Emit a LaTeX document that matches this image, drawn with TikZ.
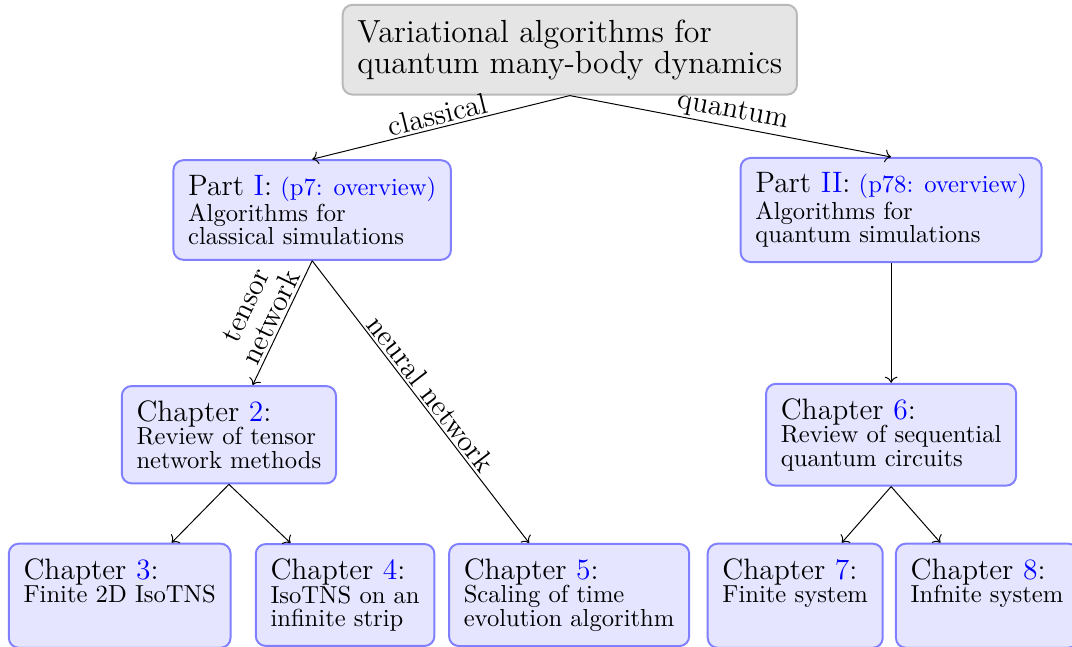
\documentclass[tikz,border=0pt]{standalone}
\usepackage{tikz}
\usetikzlibrary{positioning,arrows.meta}
\usepackage{xcolor}
\begin{document}
\begin{tikzpicture}[
  topbox/.style={rectangle, draw=gray!55, fill=gray!20, rounded corners=4pt, line width=0.8pt, align=left, font=\fontsize{13}{12.7}\selectfont, inner xsep=6pt, inner ysep=6pt},
  partbox/.style={rectangle, draw=blue!50, fill=blue!10, rounded corners=4pt, line width=0.8pt, align=left, font=\fontsize{10}{9.5}\selectfont, inner xsep=6pt, inner ysep=6pt},
  link/.style={->, thin, black},
  tag/.style={font=\fontsize{12}{11.5}\selectfont, sloped, above, inner sep=1pt},
]
  \useasboundingbox (0,0) rectangle (15.314,-9.229);

  \node[topbox] (top) at (8.14,-0.71) {Variational algorithms for\\ quantum many-body dynamics};

  \node[partbox] (P1) at (4.46,-3.0) {{\large Part \textcolor{blue}{I}:} \textcolor{blue}{(p7: overview)}\\ Algorithms for\\ classical simulations};
  \node[partbox] (P2) at (12.73,-3.0) {{\large Part \textcolor{blue}{II}:} \textcolor{blue}{(p78: overview)}\\ Algorithms for\\ quantum simulations};

  \node[partbox] (C2) at (3.27,-6.21) {{\large Chapter \textcolor{blue}{2}:}\\ Review of tensor\\ network methods};
  \node[partbox] (C6) at (12.73,-6.21) {{\large Chapter \textcolor{blue}{6}:}\\ Review of sequential\\ quantum circuits};

  \node[partbox] (C3) at (1.71,-8.51) {{\large Chapter \textcolor{blue}{3}:}\\ Finite 2D IsoTNS\\ \strut};
  \node[partbox] (C4) at (4.93,-8.5) {{\large Chapter \textcolor{blue}{4}:}\\ IsoTNS on an\\ infinite strip};
  \node[partbox] (C5) at (8.13,-8.5) {{\large Chapter \textcolor{blue}{5}:}\\ Scaling of time\\ evolution algorithm};
  \node[partbox] (C7) at (11.36,-8.51) {{\large Chapter \textcolor{blue}{7}:}\\ Finite system\\ \strut};
  \node[partbox] (C8) at (14.1,-8.51) {{\large Chapter \textcolor{blue}{8}:}\\ Infnite system\\ \strut};

  % top level split
  \draw[link] (top.south) -- node[tag] {classical} (P1.north);
  \draw[link] (top.south) -- node[tag] {quantum} (P2.north);

  % classical branch
  \draw[link] (P1.south) -- node[tag, align=center] {tensor\\ network} (C2);
  \draw[link] (P1.south) -- node[tag] {neural network} (C5);
  \draw[link] (C2.south) -- (C3);
  \draw[link] (C2.south) -- (C4);

  % quantum branch
  \draw[link] (P2) -- (C6);
  \draw[link] (C6.south) -- (C7);
  \draw[link] (C6.south) -- (C8);
\end{tikzpicture}
\end{document}
